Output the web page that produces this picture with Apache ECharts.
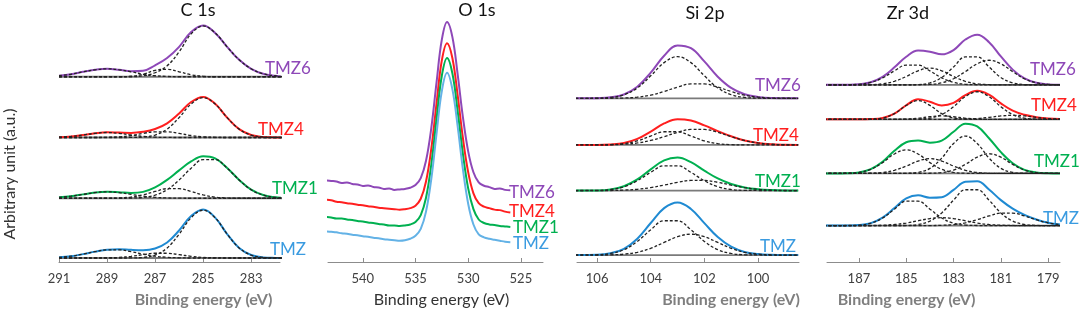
<!DOCTYPE html>
<html>
<head>
<meta charset="utf-8">
<script src="https://cdn.jsdelivr.net/npm/echarts@6/dist/echarts.min.js"></script>
<style>
  html, body { margin: 0; padding: 0; background: #fff; }
  #main { width: 1079px; height: 313px; }
</style>
</head>
<body>
<div id="main"></div>
<script>
// samples, top to bottom in every panel
const samples = ['TMZ6', 'TMZ4', 'TMZ1', 'TMZ'];

// ---- C 1s ----
const c1sEnergy = [291, 290.5, 290, 289.5, 289, 288.5, 288, 287.5, 287, 286.5, 286, 285.5, 285, 284.5, 284, 283.5, 283, 282.5, 282, 281.5, 281];
const c1sTicks = [283, 285, 287, 289, 291];
const c1sOffset = [186, 125, 64, 4];
const c1sTMZ6 = [1, 2.5, 5, 7, 8, 7, 5.5, 6, 11.5, 18.8, 30, 45, 51.5, 44, 30, 17, 8, 3, 1, 0, 0];
const c1sTMZ4 = [0.3, 1.1, 2.5, 4.2, 5.2, 4.9, 4.6, 5.7, 8.5, 14.2, 24.1, 35.6, 40.7, 33.8, 20, 8.4, 2.5, 0.5, 0.1, 0, 0];
const c1sTMZ1 = [0.9, 2.1, 3.9, 5.7, 6.5, 6, 5.3, 6.4, 10.9, 18.5, 28, 37, 42.2, 40, 30.5, 18.4, 8.6, 3.2, 0.9, 0.2, 0];
const c1sTMZ = [0.7, 1.8, 3.9, 6.4, 8.4, 8.8, 8.2, 7.9, 9.6, 15.6, 27.6, 42.1, 48.6, 40.6, 24, 10.1, 3, 0.6, 0.1, 0, 0];
// fitted components: C-C, C-O, O-C=O
const c1sFitTMZ6 = [
  [0, 0, 0, 0, 0, 0, 0, 1, 4, 11, 25, 43, 51, 44, 30, 17, 8, 3, 1, 0, 0],
  [0, 0, 0, 0, 0, 0, 0.5, 2.5, 6.5, 7.5, 5, 2, 0.5, 0, 0, 0, 0, 0, 0, 0, 0],
  [1, 2.5, 5, 7, 8, 7, 5, 2.5, 1, 0.3, 0, 0, 0, 0, 0, 0, 0, 0, 0, 0, 0]
];
const c1sFitTMZ4 = [
  [0, 0, 0, 0, 0, 0, 0.1, 0.5, 2.5, 8.4, 20, 33.6, 40, 33.6, 20, 8.4, 2.5, 0.5, 0.1, 0, 0],
  [0, 0, 0, 0, 0.2, 0.7, 2, 4.1, 5.7, 5.7, 4.1, 2, 0.7, 0.2, 0, 0, 0, 0, 0, 0, 0],
  [0.3, 1.1, 2.5, 4.2, 5, 4.2, 2.5, 1.1, 0.3, 0.1, 0, 0, 0, 0, 0, 0, 0, 0, 0, 0, 0]
];
const c1sFitTMZ1 = [
  [0, 0, 0, 0, 0, 0, 0.2, 0.9, 3.2, 8.6, 18.3, 30.2, 38.8, 38.8, 30.2, 18.3, 8.6, 3.2, 0.9, 0.2, 0],
  [0, 0, 0, 0, 0, 0.3, 1.2, 3.4, 6.8, 9.6, 9.6, 6.8, 3.4, 1.2, 0.3, 0.1, 0, 0, 0, 0, 0],
  [0.9, 2.1, 3.9, 5.7, 6.5, 5.7, 3.9, 2.1, 0.9, 0.3, 0.1, 0, 0, 0, 0, 0, 0, 0, 0, 0, 0]
];
const c1sFitTMZ = [
  [0, 0, 0, 0, 0, 0, 0.1, 0.6, 3, 10.1, 24, 40.4, 48, 40.4, 24, 10.1, 3, 0.6, 0.1, 0, 0],
  [0, 0, 0, 0, 0.2, 0.6, 1.7, 3.4, 4.8, 4.8, 3.4, 1.7, 0.6, 0.2, 0, 0, 0, 0, 0, 0, 0],
  [0.7, 1.8, 3.9, 6.4, 8.2, 8.2, 6.4, 3.9, 1.8, 0.7, 0.2, 0, 0, 0, 0, 0, 0, 0, 0, 0, 0]
];

// ---- O 1s ----
const o1sEnergy = [543.5, 543, 542.5, 542, 541.5, 541, 540.5, 540, 539.5, 539, 538.5, 538, 537.5, 537, 536.5, 536, 535.5, 535, 534.5, 534, 533.5, 533, 532.5, 532, 531.5, 531, 530.5, 530, 529.5, 529, 528.5, 528, 527.5, 527, 526.5, 526];
const o1sTicks = [525, 530, 535, 540];
const o1sOffset = [72, 50, 35, 20];
const o1sTMZ6 = [10.5, 10, 9.5, 8, 8.5, 7, 6.5, 5, 5.5, 4, 3.5, 2, 2.5, 1, 1.5, 2, 3.2, 5.9, 12.9, 30.4, 63.5, 109.7, 153, 171, 155.9, 118.1, 74.7, 40, 18.8, 8.5, 5.2, 3.8, 2, 2.5, 1, 0.5];
const o1sTMZ4 = [13, 12.5, 11, 10.5, 9.5, 9, 8, 7.5, 6.5, 6, 5, 4.5, 4, 3.5, 3, 3.5, 4.5, 7, 14, 31.5, 64.5, 110.5, 154, 171.5, 156.5, 119, 75.5, 41, 19.5, 9.5, 6, 4.5, 3, 2.5, 1, 0];
const o1sTMZ1 = [10.5, 10, 9, 9, 8, 7.5, 6.5, 6, 5, 4.5, 3.5, 3, 2, 2, 1.5, 2, 3, 5.5, 12.5, 30, 63.5, 110, 153.5, 171.5, 156, 118, 74.5, 39.5, 18.5, 8, 4.5, 3, 2.5, 1.5, 1, 0.5];
const o1sTMZ = [11, 10.5, 10, 9, 8.5, 7.5, 7, 6, 5.5, 4.5, 4, 3, 2.5, 2, 1.5, 2, 3.5, 6.5, 13.5, 31, 64, 110, 153, 171.5, 155, 117.5, 74, 39, 18, 8, 5, 3.5, 2.5, 1.5, 0.5, 0];

// ---- Si 2p ----
const si2pEnergy = [107, 106.5, 106, 105.5, 105, 104.5, 104, 103.5, 103, 102.5, 102, 101.5, 101, 100.5, 100, 99.5, 99, 98.5];
const si2pTicks = [100, 102, 104, 106];
const si2pOffset = [165, 118, 72, 7];
const si2pTMZ6 = [0, 0, 0.2, 1, 3.9, 11.7, 25.9, 42.9, 53.3, 50.5, 37.2, 21.8, 10.5, 4.1, 1.4, 0.3, 0.1, 0];
const si2pTMZ4 = [0, 0, 0, 0.5, 2, 6.1, 13.5, 21.7, 26, 24.6, 19.7, 14, 8.7, 4.5, 2, 0.7, 0.2, 0];
const si2pTMZ1 = [0, 0.1, 0.2, 1.2, 4.4, 11.2, 21.4, 30.5, 33.3, 28.6, 20.1, 12.2, 6.6, 3.2, 1.4, 0.5, 0.1, 0];
const si2pTMZ = [0, 0.1, 0.3, 1.8, 6.3, 16.5, 32.3, 47.3, 53.1, 46.5, 32.2, 18.1, 8.4, 3.1, 1, 0.2, 0, 0];
const si2pFitTMZ6 = [
  [0, 0, 0.2, 0.9, 3.6, 10.5, 22.7, 36, 42, 36, 22.7, 10.5, 3.6, 0.9, 0.2, 0, 0, 0],
  [0, 0, 0, 0.1, 0.3, 1.2, 3.2, 6.9, 11.3, 14.5, 14.5, 11.3, 6.9, 3.2, 1.2, 0.3, 0.1, 0]
];
const si2pFitTMZ4 = [
  [0, 0, 0, 0.3, 1.3, 4.1, 9, 13.3, 13.3, 9, 4.1, 1.3, 0.3, 0, 0, 0, 0, 0],
  [0, 0, 0, 0.2, 0.7, 2, 4.5, 8.4, 12.7, 15.6, 15.6, 12.7, 8.4, 4.5, 2, 0.7, 0.2, 0]
];
const si2pFitTMZ1 = [
  [0, 0.1, 0.2, 1.1, 3.9, 9.9, 18.4, 25, 25, 18.4, 9.9, 3.9, 1.1, 0.2, 0.1, 0, 0, 0],
  [0, 0, 0, 0.1, 0.5, 1.3, 3, 5.5, 8.3, 10.2, 10.2, 8.3, 5.5, 3, 1.3, 0.5, 0.1, 0]
];
const si2pFitTMZ = [
  [0, 0.1, 0.3, 1.6, 5.4, 13.7, 25.5, 34.6, 34.6, 25.5, 13.7, 5.4, 1.6, 0.3, 0.1, 0, 0, 0],
  [0, 0, 0, 0.2, 0.9, 2.8, 6.8, 12.7, 18.5, 21, 18.5, 12.7, 6.8, 2.8, 0.9, 0.2, 0, 0]
];

// ---- Zr 3d ----
const zr3dEnergy = [188.5, 188, 187.5, 187, 186.5, 186, 185.5, 185, 184.5, 184, 183.5, 183, 182.5, 182, 181.5, 181, 180.5, 180, 179.5, 179, 178.5];
const zr3dTicks = [179, 181, 183, 185, 187];
const zr3dOffset = [180, 145, 90, 37];
const zr3dTMZ6 = [0, 0, 0.1, 0.6, 2.7, 8.2, 17.8, 28.6, 34.8, 33.7, 31, 35.4, 46.1, 51, 43.4, 28.9, 15.5, 6.5, 2.1, 0.5, 0.1];
const zr3dTMZ4 = [0, 0, 0, 0, 0.2, 1.3, 5.8, 14.3, 20.3, 17.9, 14.1, 16.7, 24.6, 29, 25, 16.2, 8.8, 4.6, 2.2, 0.8, 0.3];
const zr3dTMZ1 = [0, 0, 0.2, 1, 4.4, 11.9, 23, 31.7, 33.5, 31.3, 33.3, 42.3, 50.6, 47.8, 35.8, 21.6, 10.3, 3.6, 0.9, 0.2, 0];
const zr3dTMZ = [0, 0, 0.1, 0.5, 2.5, 8.1, 17.8, 27.6, 30.8, 28.4, 28.9, 36.3, 44.6, 45.1, 36.7, 25.9, 17.3, 10.9, 6.2, 2.8, 1];
const zr3dFitTMZ6 = [
  [0, 0, 0.1, 0.6, 2.5, 7.1, 14.2, 20.1, 20.1, 14.2, 7.1, 2.5, 0.6, 0.1, 0, 0, 0, 0, 0, 0, 0],
  [0, 0, 0, 0, 0.2, 1.1, 3.6, 8.5, 14.3, 17, 14.3, 8.5, 3.6, 1.1, 0.2, 0, 0, 0, 0, 0, 0],
  [0, 0, 0, 0, 0, 0, 0, 0, 0.3, 2, 7.5, 18.2, 28.4, 28.4, 18.2, 7.5, 2, 0.3, 0, 0, 0],
  [0, 0, 0, 0, 0, 0, 0, 0, 0.1, 0.5, 2.1, 6.2, 13.5, 21.4, 25, 21.4, 13.5, 6.2, 2.1, 0.5, 0.1]
];
const zr3dFitTMZ4 = [
  [0, 0, 0, 0, 0.2, 1.3, 5.8, 14.1, 19, 14.1, 5.8, 1.3, 0.2, 0, 0, 0, 0, 0, 0, 0, 0],
  [0, 0, 0, 0, 0, 0, 0, 0.2, 1.1, 2.6, 3.5, 2.6, 1.1, 0.2, 0, 0, 0, 0, 0, 0, 0],
  [0, 0, 0, 0, 0, 0, 0, 0, 0.2, 1.2, 4.8, 12.8, 23, 28, 23, 12.8, 4.8, 1.2, 0.2, 0, 0],
  [0, 0, 0, 0, 0, 0, 0, 0, 0, 0, 0, 0, 0.3, 0.8, 2, 3.4, 4, 3.4, 2, 0.8, 0.3]
];
const zr3dFitTMZ1 = [
  [0, 0, 0.2, 1, 4.2, 11, 19.8, 24, 19.8, 11, 4.2, 1, 0.2, 0, 0, 0, 0, 0, 0, 0, 0],
  [0, 0, 0, 0, 0.2, 0.9, 3.2, 7.5, 12.6, 15, 12.6, 7.5, 3.2, 0.9, 0.2, 0, 0, 0, 0, 0, 0],
  [0, 0, 0, 0, 0, 0, 0, 0.2, 1.1, 5.1, 15.6, 30.4, 38, 30.4, 15.6, 5.1, 1.1, 0.2, 0, 0, 0],
  [0, 0, 0, 0, 0, 0, 0, 0, 0, 0.2, 0.9, 3.4, 9.2, 16.5, 20, 16.5, 9.2, 3.4, 0.9, 0.2, 0]
];
const zr3dFitTMZ = [
  [0, 0, 0.1, 0.5, 2.4, 7.7, 16.7, 24.8, 24.8, 16.7, 7.7, 2.4, 0.5, 0.1, 0, 0, 0, 0, 0, 0, 0],
  [0, 0, 0, 0, 0.1, 0.4, 1.1, 2.6, 4.9, 7.1, 8, 7.1, 4.9, 2.6, 1.1, 0.4, 0.1, 0, 0, 0, 0],
  [0, 0, 0, 0, 0, 0, 0, 0.2, 1.1, 4.6, 12.9, 25.8, 36.4, 36.4, 25.8, 12.9, 4.6, 1.1, 0.2, 0, 0],
  [0, 0, 0, 0, 0, 0, 0, 0, 0, 0, 0.3, 1, 2.8, 6, 9.8, 12.6, 12.6, 9.8, 6, 2.8, 1]
];

// ---- look ----
const font = 'Lato, "Noto Sans", sans-serif';
const colors = ['#8e48b8', '#ff1f1f', '#00b050', '#1f8ad2'];
const labelColors = ['#8e48b8', '#ff1f1f', '#00b050', '#3a9be0'];

// grid boxes in px, axis ranges
const panels = [
  { title: 'C 1s', tx: 198, ty: 10, left: 59, right: 799, bottom: 50, min: 281.8, max: 291,
    energy: c1sEnergy, ticks: c1sTicks, offset: c1sOffset,
    spectra: [c1sTMZ6, c1sTMZ4, c1sTMZ1, c1sTMZ], fits: [c1sFitTMZ6, c1sFitTMZ4, c1sFitTMZ1, c1sFitTMZ],
    labels: [[265, 69], [258, 130], [272, 189], [270, 250]], nameShift: 34, nameBold: true },
  { title: 'O 1s', tx: 477, ty: 10, left: 328, right: 536, bottom: 48, min: 522.9, max: 543.3,
    energy: o1sEnergy, ticks: o1sTicks, offset: o1sOffset,
    spectra: [o1sTMZ6, o1sTMZ4, o1sTMZ1, o1sTMZ], fits: null,
    labels: [[509, 193], [509, 212], [513, 228], [513, 244]], nameShift: 6, nameBold: false },
  { title: 'Si 2p', tx: 705, ty: 13, left: 577, right: 280, bottom: 49, min: 98.47, max: 106.75,
    energy: si2pEnergy, ticks: si2pTicks, offset: si2pOffset,
    spectra: [si2pTMZ6, si2pTMZ4, si2pTMZ1, si2pTMZ], fits: [si2pFitTMZ6, si2pFitTMZ4, si2pFitTMZ1, si2pFitTMZ],
    labels: [[755, 86], [753, 136], [755, 182], [760, 247]], nameShift: 43, nameBold: true },
  { title: 'Zr 3d', tx: 908, ty: 13, left: 827, right: 19, bottom: 47, min: 178.5, max: 188.35,
    energy: zr3dEnergy, ticks: zr3dTicks, offset: zr3dOffset,
    spectra: [zr3dTMZ6, zr3dTMZ4, zr3dTMZ1, zr3dTMZ], fits: [zr3dFitTMZ6, zr3dFitTMZ4, zr3dFitTMZ1, zr3dFitTMZ],
    labels: [[1030, 70], [1031, 106], [1034, 162], [1043, 219]], nameShift: -37, nameBold: true }
];

const TOP = 15, H = 313;
let grids = [], xAxes = [], yAxes = [], series = [], graphics = [];

panels.forEach(function (p, g) {
  const height = H - TOP - p.bottom;
  grids.push({ left: p.left, right: p.right, top: TOP, bottom: p.bottom });
  const bold = p.nameBold;
  xAxes.push({
    type: 'value', gridIndex: g, inverse: true, min: p.min, max: p.max,
    axisLine: { lineStyle: { color: '#8c8c8c', width: 1 } },
    axisTick: { inside: true, length: 4, customValues: p.ticks, lineStyle: { color: '#8c8c8c' } },
    axisLabel: { customValues: p.ticks, color: '#404040', fontSize: 13, margin: 10, fontFamily: font },
    splitLine: { show: false },
    name: 'Binding energy (eV)', nameLocation: 'middle', nameGap: 30,
    nameTextStyle: {
      fontFamily: font, fontSize: 16,
      fontWeight: bold ? 'bold' : 'normal',
      color: bold ? '#7f7f7f' : '#333',
      padding: p.nameShift >= 0 ? [0, 0, 0, 2 * p.nameShift] : [0, -2 * p.nameShift, 0, 0]
    }
  });
  yAxes.push({ type: 'value', gridIndex: g, min: 0, max: height, show: false });

  p.spectra.forEach(function (vals, s) {
    const off = p.offset[s];
    const pts = function (arr) { return p.energy.map(function (e, i) { return [e, arr[i] + off]; }); };
    if (p.fits) {
      // background line under each spectrum
      series.push({
        type: 'line', xAxisIndex: g, yAxisIndex: g, symbol: 'none', silent: true, z: 1,
        data: [[p.energy[0], off], [p.energy[p.energy.length - 1], off]],
        lineStyle: { color: '#7a7a7a', width: 1.8 }
      });
    }
    series.push({
      name: samples[s], type: 'line', xAxisIndex: g, yAxisIndex: g, symbol: 'none', z: 2,
      smooth: 0.4, data: pts(vals),
      lineStyle: { color: g === 1 && s === 3 ? '#63b2e6' : colors[s], width: 2 }
    });
    if (p.fits) {
      p.fits[s].forEach(function (comp) {
        series.push({
          type: 'line', xAxisIndex: g, yAxisIndex: g, symbol: 'none', silent: true, z: 3,
          smooth: 0.4, data: pts(comp),
          lineStyle: { color: '#222', width: 1.3, type: [3, 2] }
        });
      });
    }
    graphics.push({
      type: 'text', x: p.labels[s][0], y: p.labels[s][1],
      style: { text: samples[s], fill: labelColors[s], font: '17px ' + font, align: 'left', verticalAlign: 'middle' }
    });
  });

  graphics.push({
    type: 'text', x: p.tx, y: p.ty,
    style: { text: p.title, fill: '#111', font: '18px ' + font, align: 'center', verticalAlign: 'middle' }
  });
});

graphics.push({
  type: 'text', x: 10, y: 174, rotation: Math.PI / 2,
  style: { text: 'Arbitrary unit (a.u.)', fill: '#333', font: '16px ' + font, align: 'center', verticalAlign: 'middle' }
});

let chart = echarts.init(document.getElementById('main'), null, { renderer: 'canvas' });
chart.setOption({
  animation: false,
  backgroundColor: '#fff',
  grid: grids,
  xAxis: xAxes,
  yAxis: yAxes,
  series: series,
  graphic: graphics
});
</script>
</body>
</html>
